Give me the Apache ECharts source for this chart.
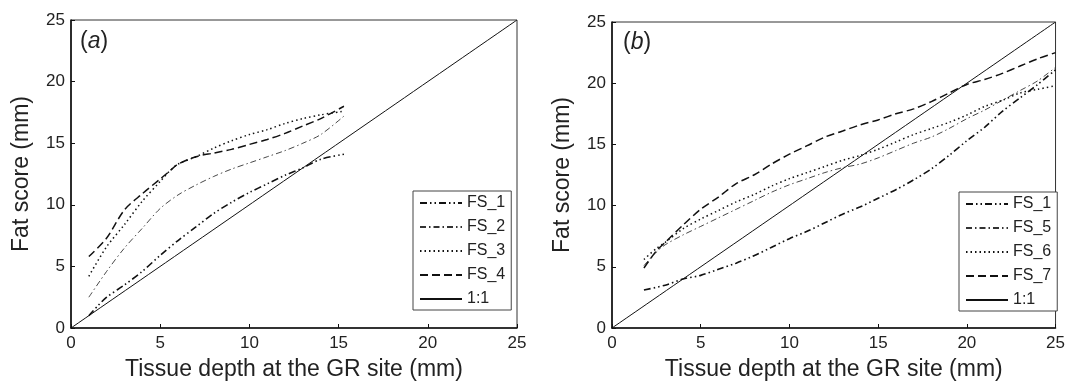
<!DOCTYPE html>
<html>
<head>
<meta charset="utf-8">
<script src="https://cdn.jsdelivr.net/npm/echarts@6/dist/echarts.min.js"></script>
<style>
  html, body { margin: 0; padding: 0; background: #fff; }
  #chart { width: 1068px; height: 386px; }
</style>
</head>
<body>
<div id="chart"></div>
<script>
// tick values shared by both panels
const ticks = [0, 5, 10, 15, 20, 25]

// panel (a): [tissue depth, fat score]
const a_FS_1 = [[1.0, 1.0], [1.5, 1.8], [2, 2.5], [3, 3.5], [4, 4.6], [5, 5.9], [6, 7.1], [7, 8.2], [8, 9.3], [9, 10.2], [10, 11.0], [11, 11.7], [12, 12.4], [13, 13.0], [14, 13.7], [15.3, 14.1]]
const a_FS_2 = [[1.0, 2.5], [2, 4.6], [3, 6.5], [4, 8.1], [5, 9.7], [6, 10.8], [7, 11.6], [8, 12.3], [9, 12.9], [10, 13.4], [11, 13.9], [12, 14.4], [13, 15.0], [14, 15.7], [15.3, 17.2]]
const a_FS_3 = [[1.0, 4.2], [2, 6.6], [3, 8.4], [4, 10.3], [5, 11.9], [5.5, 12.7], [6, 13.3], [7, 13.9], [8, 14.6], [9, 15.2], [10, 15.7], [11, 16.1], [12, 16.6], [13, 17.0], [14, 17.3], [15.3, 17.6]]
const a_FS_4 = [[1.0, 5.8], [2, 7.3], [3, 9.6], [4, 10.9], [5, 12.1], [5.5, 12.7], [6, 13.3], [7, 13.9], [8, 14.2], [9, 14.5], [10, 14.9], [11, 15.3], [12, 15.8], [13, 16.4], [14, 17.0], [15.3, 18.0]]

// panel (b)
const b_FS_1 = [[1.8, 3.1], [3, 3.5], [4, 4.0], [5, 4.3], [6, 4.8], [7, 5.3], [8, 5.9], [9, 6.6], [10, 7.3], [11, 7.9], [12, 8.6], [13, 9.3], [14, 9.9], [15, 10.6], [16, 11.3], [17, 12.1], [18, 13.0], [19, 14.1], [20, 15.3], [21, 16.4], [22, 17.7], [23, 18.8], [24, 19.9], [25, 21.1]]
const b_FS_5 = [[1.8, 5.1], [2.5, 6.2], [3, 6.8], [4, 7.6], [5, 8.3], [6, 9.0], [7, 9.7], [8, 10.4], [9, 11.1], [10, 11.7], [11, 12.2], [12, 12.7], [13, 13.1], [14, 13.4], [15, 13.9], [16, 14.5], [17, 15.1], [18, 15.6], [19, 16.3], [20, 17.1], [21, 17.8], [22, 18.6], [23, 19.4], [24, 20.2], [25, 21.3]]
const b_FS_6 = [[1.8, 5.6], [2.5, 6.5], [3, 7.0], [4, 8.1], [5, 8.9], [6, 9.6], [7, 10.3], [8, 10.9], [9, 11.6], [10, 12.2], [11, 12.7], [12, 13.2], [13, 13.7], [14, 14.1], [15, 14.6], [16, 15.2], [17, 15.8], [18, 16.3], [19, 16.8], [20, 17.4], [21, 18.1], [22, 18.6], [23, 19.2], [24, 19.5], [25, 19.8]]
const b_FS_7 = [[1.8, 4.9], [2.5, 6.3], [3, 7.0], [4, 8.4], [5, 9.7], [6, 10.7], [7, 11.8], [8, 12.5], [9, 13.4], [10, 14.2], [11, 14.9], [12, 15.6], [13, 16.1], [14, 16.6], [15, 17.0], [16, 17.5], [17, 17.9], [18, 18.5], [19, 19.2], [20, 19.9], [21, 20.3], [22, 20.8], [23, 21.4], [24, 22.0], [25, 22.5]]

// 1:1 reference line
const oneToOne = [[ticks[0], ticks[0]], [ticks[ticks.length - 1], ticks[ticks.length - 1]]]

const legendA = ['FS_1', 'FS_2', 'FS_3', 'FS_4', '1:1']
const legendB = ['FS_1', 'FS_5', 'FS_6', 'FS_7', '1:1']

const font = "'Liberation Sans', Arial, Helvetica, sans-serif"

// line styles, matlab-like
const styles = {
  FS_1: { color: '#111', width: 1.6, type: [7, 3, 1.5, 3, 1.5, 3] },
  FS_2: { color: '#333', width: 0.9, type: [6, 3, 1.5, 3] },
  FS_5: { color: '#333', width: 0.9, type: [6, 3, 1.5, 3] },
  FS_3: { color: '#111', width: 1.5, type: [1.5, 3] },
  FS_6: { color: '#111', width: 1.5, type: [1.5, 3] },
  FS_4: { color: '#111', width: 1.5, type: [8, 4] },
  FS_7: { color: '#111', width: 1.5, type: [8, 4] },
  '1:1': { color: '#111', width: 1, type: 'solid' }
}

function makeSeries(name, data, idx) {
  return {
    name: name,
    type: 'line',
    xAxisIndex: idx,
    yAxisIndex: idx,
    data: data,
    color: styles[name].color,
    symbol: 'none',
    smooth: 0.3,
    silent: true,
    itemStyle: { color: styles[name].color, opacity: 0 },
    lineStyle: styles[name]
  }
}

function makeAxis(idx, isX) {
  const ax = {
    gridIndex: idx,
    type: 'value',
    min: ticks[0],
    max: ticks[ticks.length - 1],
    interval: 5,
    splitLine: { show: false },
    axisLine: { show: true, onZero: false, lineStyle: { color: '#111', width: 1.6 } },
    axisTick: { show: true, inside: true, length: 4, lineStyle: { color: '#111', width: 1 } },
    axisLabel: { color: '#222', fontSize: 17, fontFamily: font, margin: isX ? 7 : 6 },
    nameLocation: 'middle',
    nameTextStyle: { color: '#222', fontSize: 23, fontFamily: font },
    name: isX ? 'Tissue depth at the GR site (mm)' : 'Fat score (mm)',
    nameGap: isX ? 30 : 38
  }
  return ax
}

function makeLegend(names, left, top) {
  return {
    data: names,
    orient: 'vertical',
    left: left,
    top: top,
    itemWidth: 42,
    itemHeight: 14,
    itemGap: 8,
    padding: [4, 6, 3, 6],
    borderColor: '#444',
    borderWidth: 1,
    backgroundColor: '#fff',
    selectedMode: false,
    itemStyle: { opacity: 0 },
    textStyle: { color: '#222', fontSize: 16, fontFamily: font }
  }
}

function panelLabel(letter, left, top) {
  return {
    text: '{p|(}{i|' + letter + '}{p|)}',
    left: left,
    top: top,
    padding: 0,
    textStyle: {
      fontWeight: 'normal',
      rich: {
        p: { fontSize: 23, fontFamily: font, fontWeight: 'normal', color: '#222' },
        i: { fontSize: 23, fontFamily: font, fontWeight: 'normal', fontStyle: 'italic', color: '#222' }
      }
    }
  }
}

const chart = echarts.init(document.getElementById('chart'))

const option = {
  animation: false,
  backgroundColor: '#fff',
  title: [panelLabel('a', 80, 30), panelLabel('b', 623, 31)],
  grid: [
    { left: 71, top: 20, width: 446, height: 308, show: true, borderColor: '#333', borderWidth: 1 },
    { left: 612, top: 22, width: 447, height: 309, show: true, borderColor: '#333', borderWidth: 1 }
  ],
  xAxis: [makeAxis(0, true), makeAxis(1, true)],
  yAxis: [makeAxis(0, false), makeAxis(1, false)],
  legend: [makeLegend(legendA, 413, 191), makeLegend(legendB, 959, 192)],
  series: [
    makeSeries('FS_1', a_FS_1, 0),
    makeSeries('FS_2', a_FS_2, 0),
    makeSeries('FS_3', a_FS_3, 0),
    makeSeries('FS_4', a_FS_4, 0),
    makeSeries('1:1', oneToOne, 0),
    makeSeries('FS_1', b_FS_1, 1),
    makeSeries('FS_5', b_FS_5, 1),
    makeSeries('FS_6', b_FS_6, 1),
    makeSeries('FS_7', b_FS_7, 1),
    makeSeries('1:1', oneToOne, 1)
  ]
}

chart.setOption(option)
</script>
</body>
</html>
